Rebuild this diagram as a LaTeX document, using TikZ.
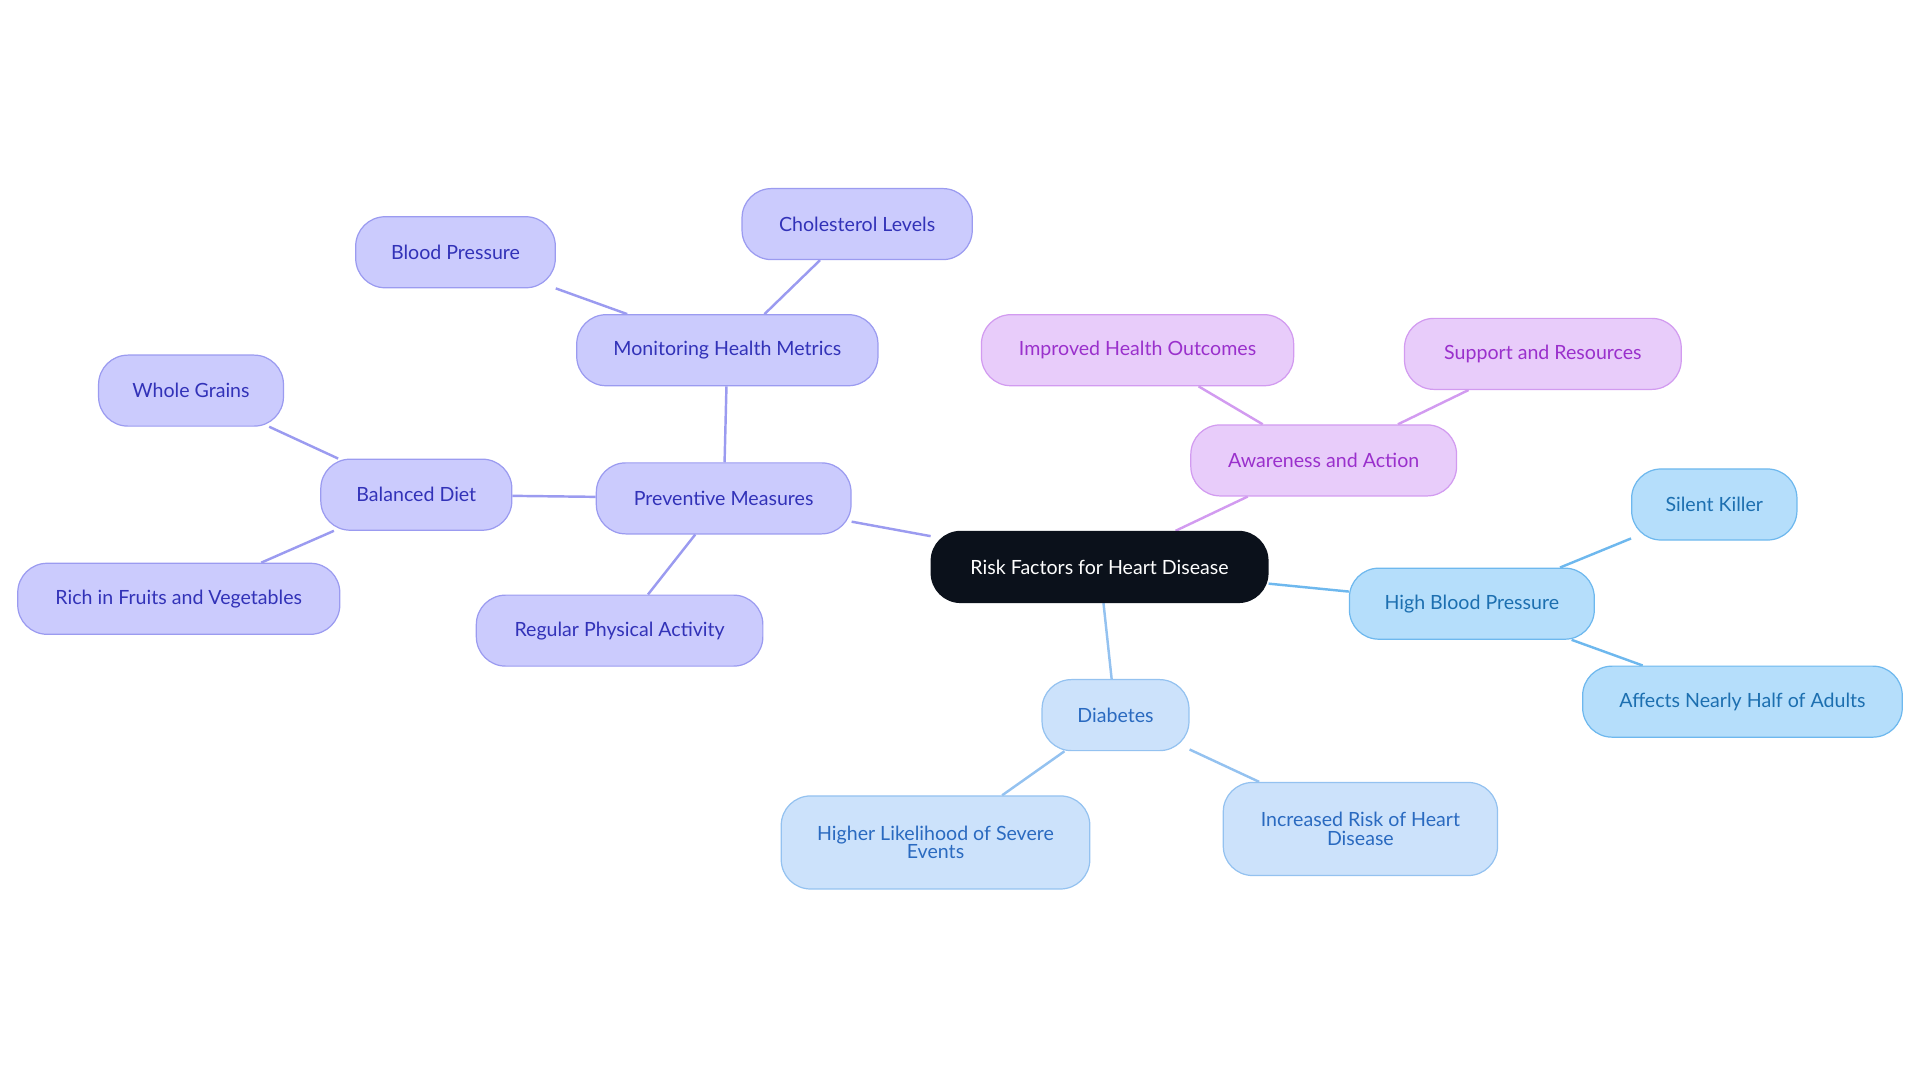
\documentclass[tikz,border=0pt]{standalone}
\usepackage{fontspec}
\setmainfont{Lato}
\usetikzlibrary{backgrounds}
\definecolor{pF}{HTML}{CBCBFD}\definecolor{pB}{HTML}{9B9BF0}\definecolor{pT}{HTML}{3232B8}
\definecolor{mF}{HTML}{E8CCFA}\definecolor{mB}{HTML}{D29BF0}\definecolor{mT}{HTML}{9A30CC}
\definecolor{bF}{HTML}{B5DEFB}\definecolor{bB}{HTML}{6EB8EE}\definecolor{bT}{HTML}{1C6FB0}
\definecolor{dF}{HTML}{CCE2FB}\definecolor{dB}{HTML}{94C2F0}\definecolor{dT}{HTML}{2A6AC0}
\definecolor{rootF}{HTML}{0B111B}
\tikzset{
 box/.style={draw,rounded corners=24pt,minimum height=58pt,line width=1pt,font=\fontsize{16}{16}\selectfont,align=center,inner sep=0pt},
 pur/.style={box,fill=pF,draw=pB,text=pT},
 mag/.style={box,fill=mF,draw=mB,text=mT},
 blu/.style={box,fill=bF,draw=bB,text=bT},
 dia/.style={box,fill=dF,draw=dB,text=dT},
 pe/.style={draw=pB,line width=2pt},
 me/.style={draw=mB,line width=2pt},
 be/.style={draw=bB,line width=2pt},
 de/.style={draw=dB,line width=2pt}}
\begin{document}
\begin{tikzpicture}[x=1pt,y=-1pt]
\useasboundingbox (0,0) rectangle (1568,884);
\node[box,fill=rootF,draw=rootF,text=white,minimum width=275pt] (root) at (898,463) {Risk Factors for Heart Disease};
\node[pur,minimum width=208pt] (prev) at (591,407) {Preventive Measures};
\node[pur,minimum width=246pt] (mon) at (594,286) {Monitoring Health Metrics};
\node[pur,minimum width=163pt] (bp) at (372,206) {Blood Pressure};
\node[pur,minimum width=188pt] (chol) at (700,183) {Cholesterol Levels};
\node[pur,minimum width=156pt] (diet) at (340,404) {Balanced Diet};
\node[pur,minimum width=151pt] (grain) at (156,319) {Whole Grains};
\node[pur,minimum width=263pt] (fruit) at (146,489) {Rich in Fruits and Vegetables};
\node[pur,minimum width=234pt] (act) at (506,515) {Regular Physical Activity};
\node[mag,minimum width=217pt] (aware) at (1081,376) {Awareness and Action};
\node[mag,minimum width=255pt] (impr) at (929,286) {Improved Health Outcomes};
\node[mag,minimum width=226pt] (supp) at (1260,289) {Support and Resources};
\node[blu,minimum width=200pt] (hbp) at (1202,493) {High Blood Pressure};
\node[blu,minimum width=135pt] (sil) at (1400,412) {Silent Killer};
\node[blu,minimum width=261pt] (aff) at (1423,573) {Affects Nearly Half of Adults};
\node[dia,minimum width=120pt] (dia) at (911,584) {Diabetes};
\node[dia,minimum width=252pt,minimum height=76pt] (high) at (764,688) {Higher Likelihood of Severe\\[-1pt]Events};
\node[dia,minimum width=224pt,minimum height=76pt] (inc) at (1111,677) {Increased Risk of Heart\\[-1pt]Disease};
\begin{scope}[on background layer]
\draw[pe] (root) -- (prev);
\draw[pe] (prev) -- (mon);
\draw[pe] (mon) -- (bp);
\draw[pe] (mon) -- (chol);
\draw[pe] (prev) -- (diet);
\draw[pe] (diet) -- (grain);
\draw[pe] (diet) -- (fruit);
\draw[pe] (prev) -- (act);
\draw[me] (root) -- (aware);
\draw[me] (aware) -- (impr);
\draw[me] (aware) -- (supp);
\draw[be] (root) -- (hbp);
\draw[be] (hbp) -- (sil);
\draw[be] (hbp) -- (aff);
\draw[de] (root) -- (dia);
\draw[de] (dia) -- (high);
\draw[de] (dia) -- (inc);
\end{scope}
\end{tikzpicture}
\end{document}
